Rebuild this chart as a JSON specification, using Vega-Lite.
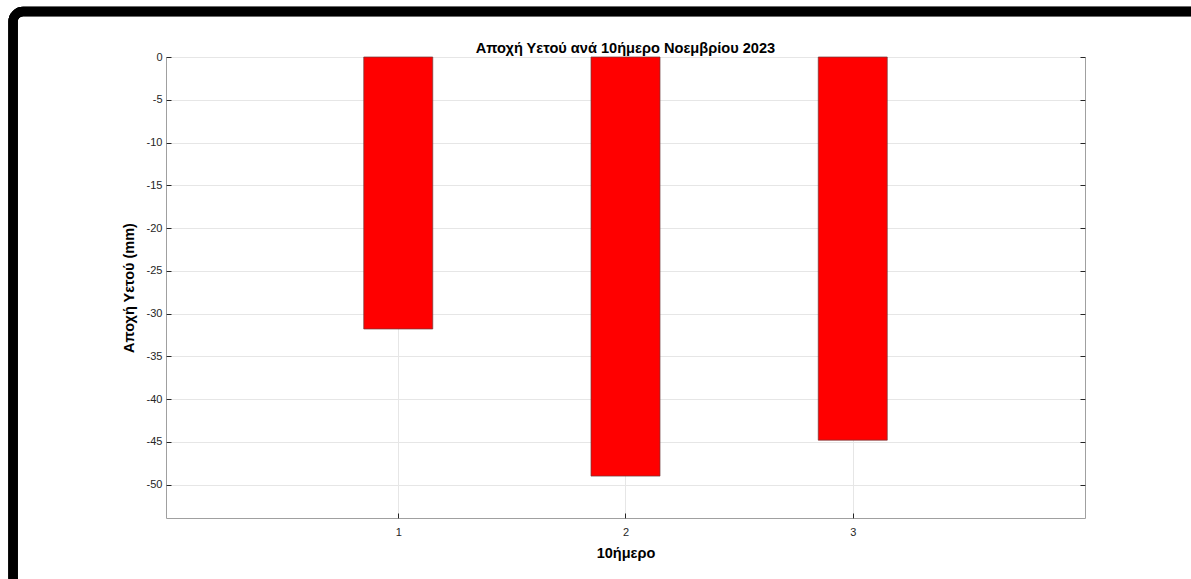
{
  "$schema": "https://vega.github.io/schema/vega-lite/v6.json",
  "usermeta": {"embedOptions": {"actions": false}},
  "width": 919,
  "height": 461,
  "autosize": {"type": "none"},
  "padding": {"left": 166, "top": 57, "right": 106, "bottom": 61},
  "background": "white",
  "title": {
    "text": "Αποχή Υετού ανά 10ήμερο Νοεμβρίου 2023",
    "font": "Liberation Sans",
    "fontSize": 14.6,
    "fontWeight": "bold",
    "color": "#000000",
    "anchor": "middle",
    "baseline": "alphabetic",
    "offset": 0,
    "dy": 61
  },
  "data": {
    "values": [
      {"dekaimero": 1, "apoxi": -31.8},
      {"dekaimero": 2, "apoxi": -49.0},
      {"dekaimero": 3, "apoxi": -44.8}
    ]
  },
  "config": {
    "view": {"stroke": "#a0a0a0", "strokeWidth": 1, "fill": "white"},
    "axis": {
      "labelFont": "Liberation Sans",
      "titleFont": "Liberation Sans",
      "labelColor": "#262626",
      "titleColor": "#000000",
      "labelFontSize": 11,
      "titleFontSize": 14.5,
      "titleFontWeight": "bold",
      "gridColor": "#e6e6e6",
      "gridOpacity": 1,
      "tickColor": "#262626",
      "domain": false
    }
  },
  "layer": [
    {
      "mark": {"type": "bar", "size": 69, "color": "#ff0000", "stroke": "#6e3a3a", "strokeWidth": 0.7},
      "encoding": {
        "x": {
          "field": "dekaimero",
          "type": "quantitative",
          "scale": {"domain": [0, 4], "nice": false, "zero": false},
          "axis": {
            "orient": "bottom",
            "values": [1, 2, 3],
            "grid": true,
            "tickSize": -5,
            "labelPadding": 13.5,
            "title": "10ήμερο",
            "titlePadding": 8.5
          }
        },
        "y": {
          "field": "apoxi",
          "type": "quantitative",
          "scale": {"domain": [-53.9, 0], "nice": false, "zero": false},
          "axis": {
            "orient": "left",
            "values": [0, -5, -10, -15, -20, -25, -30, -35, -40, -45, -50],
            "labelExpr": "datum.value + ''",
            "grid": true,
            "tickSize": -5,
            "labelPadding": 9,
            "title": "Αποχή Υετού (mm)",
            "titlePadding": 10
          }
        }
      }
    },
    {
      "mark": {"type": "bar", "size": 69, "opacity": 0},
      "encoding": {
        "x": {
          "field": "dekaimero",
          "type": "quantitative",
          "scale": {"domain": [0, 4], "nice": false, "zero": false},
          "axis": {"orient": "top", "values": [1, 2, 3], "labels": false, "grid": false, "tickSize": -5, "title": null}
        },
        "y": {
          "field": "apoxi",
          "type": "quantitative",
          "scale": {"domain": [-53.9, 0], "nice": false, "zero": false},
          "axis": {"orient": "right", "values": [0, -5, -10, -15, -20, -25, -30, -35, -40, -45, -50], "labels": false, "grid": false, "tickSize": -5, "title": null}
        }
      }
    },
    {
      "mark": {"type": "rect", "fill": null, "stroke": "#000000", "strokeWidth": 9.3, "cornerRadius": 10, "clip": false},
      "encoding": {
        "x": {"datum": -0.695, "type": "quantitative", "scale": {"domain": [0, 4], "nice": false, "zero": false}, "axis": null},
        "x2": {"datum": 6.5},
        "y": {"datum": 5.32, "type": "quantitative", "scale": {"domain": [-53.9, 0], "nice": false, "zero": false}, "axis": null},
        "y2": {"datum": -62}
      }
    }
  ],
  "resolve": {"axis": {"x": "independent", "y": "independent"}}
}
